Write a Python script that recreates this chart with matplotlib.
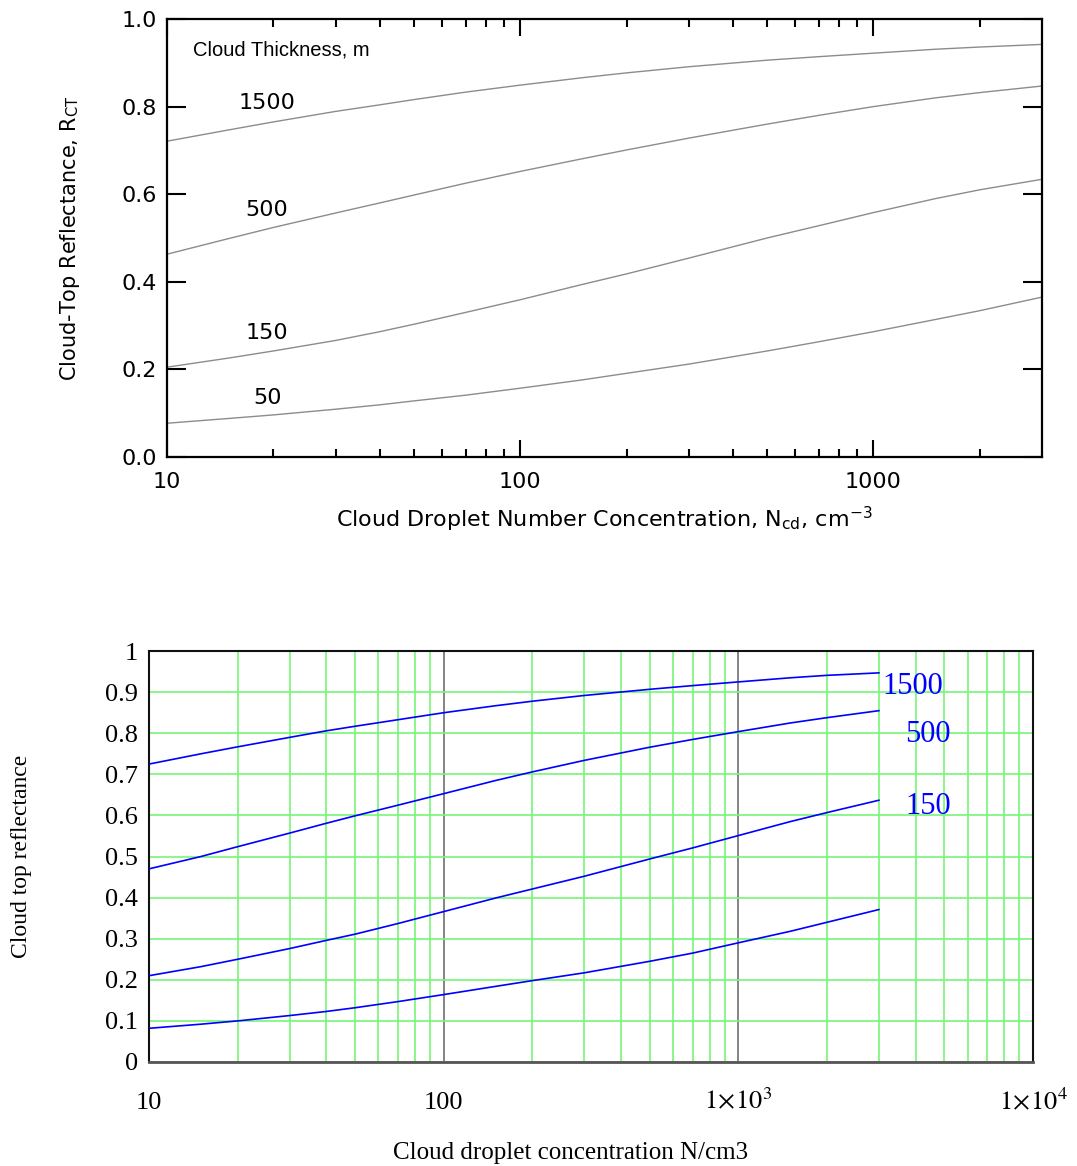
import matplotlib
matplotlib.use("Agg")
import matplotlib.pyplot as plt
from matplotlib.ticker import FixedLocator, NullFormatter

plt.rcParams['mathtext.fontset'] = 'stix'

# Top panel: published curves (cloud thickness in m)
n_top = [10, 15, 20, 30, 40, 50, 70, 100, 150, 200, 300, 500, 700, 1000, 1500, 2000, 3000]
r_top_1500 = [0.721, 0.747, 0.765, 0.789, 0.804, 0.816, 0.833, 0.849, 0.866, 0.877, 0.891,
              0.906, 0.914, 0.922, 0.931, 0.936, 0.942]
r_top_500 = [0.463, 0.499, 0.524, 0.557, 0.580, 0.598, 0.625, 0.652, 0.681, 0.701, 0.728,
             0.760, 0.780, 0.800, 0.820, 0.832, 0.847]
r_top_150 = [0.205, 0.226, 0.242, 0.266, 0.286, 0.303, 0.330, 0.359, 0.394, 0.418, 0.454,
             0.500, 0.528, 0.558, 0.590, 0.610, 0.634]
r_top_50 = [0.077, 0.088, 0.096, 0.109, 0.119, 0.128, 0.141, 0.157, 0.176, 0.191, 0.212,
            0.242, 0.263, 0.286, 0.314, 0.334, 0.365]
top_thick = ['1500', '500', '150', '50']

# Bottom panel: recomputed curves
n_bot = [10, 15, 20, 30, 40, 50, 70, 100, 150, 200, 300, 500, 700, 1000, 1500, 2000, 3000]
r_bot_1500 = [0.725, 0.750, 0.767, 0.790, 0.806, 0.817, 0.833, 0.850, 0.867, 0.878, 0.892,
              0.907, 0.916, 0.925, 0.935, 0.941, 0.947]
r_bot_500 = [0.470, 0.500, 0.524, 0.557, 0.581, 0.599, 0.625, 0.653, 0.685, 0.706, 0.734,
             0.766, 0.785, 0.804, 0.825, 0.838, 0.855]
r_bot_150 = [0.210, 0.232, 0.250, 0.276, 0.296, 0.311, 0.337, 0.366, 0.399, 0.421, 0.452,
             0.494, 0.521, 0.551, 0.585, 0.607, 0.637]
r_bot_50 = [0.082, 0.092, 0.100, 0.113, 0.123, 0.132, 0.147, 0.164, 0.184, 0.198, 0.217,
            0.245, 0.265, 0.290, 0.318, 0.340, 0.371]
bot_thick = ['1500', '500', '150']

fig = plt.figure(figsize=(10.77, 11.66), dpi=100)

# ---------------- top panel ----------------
sans = 'DejaVu Sans'
ax = fig.add_axes([0.1551, 0.6081, 0.8124, 0.3756])
for r in [r_top_1500, r_top_500, r_top_150, r_top_50]:
    ax.plot(n_top, r, color='#8c8c8c', lw=1.0)
ax.set_xscale('log')
ax.set_xlim(10, 3000)
ax.set_ylim(0, 1.0)
ax.xaxis.set_major_locator(FixedLocator([10, 100, 1000]))
ax.xaxis.set_minor_locator(FixedLocator([k * d for d in (10, 100, 1000) for k in range(2, 10) if k * d < 3000]))
ax.xaxis.set_minor_formatter(NullFormatter())
ax.set_xticklabels(['10', '100', '1000'], fontfamily=sans, fontsize=16)
ax.set_yticks([0, 0.2, 0.4, 0.6, 0.8, 1.0])
ax.set_yticklabels(['0.0', '0.2', '0.4', '0.6', '0.8', '1.0'], fontfamily=sans, fontsize=16)
ax.tick_params(which='major', axis='x', direction='in', length=12, width=1.5, top=True, pad=11)
ax.tick_params(which='major', axis='y', direction='in', length=14, width=1.5, right=True, pad=7)
ax.tick_params(which='minor', direction='in', length=6, width=1.5, top=True)
for s in ax.spines.values():
    s.set_linewidth(1.6)
ax.set_xlabel(r'Cloud Droplet Number Concentration, N$_{\mathregular{cd}}$, cm$^{\mathregular{-3}}$',
              fontfamily=sans, fontsize=16)
ax.xaxis.set_label_coords(0.5, -0.108)
ax.set_ylabel(r'Cloud-Top Reflectance, R$_{\mathregular{CT}}$', fontfamily=sans, fontsize=15)
ax.yaxis.set_label_coords(-0.097, 0.5)
ax.text(0.03, 0.929, 'Cloud Thickness, m', transform=ax.transAxes, fontfamily='Liberation Sans',
        fontsize=14.5, va='center', ha='left')
top_lab_y = [0.808, 0.564, 0.283, 0.135]
for lab, yv in zip(top_thick, top_lab_y):
    ax.text(19.2, yv, lab, fontfamily=sans, fontsize=16, ha='center', va='center')

# ---------------- bottom panel ----------------
serif = 'Liberation Serif'
green = '#77f577'
bx = fig.add_axes([0.1383, 0.0892, 0.8208, 0.3524])
for r in [r_bot_1500, r_bot_500, r_bot_150, r_bot_50]:
    bx.plot(n_bot, r, color='#0000ff', lw=1.2, zorder=3)
bx.set_xscale('log')
bx.set_xlim(10, 10000)
bx.set_ylim(0, 1)
bx.xaxis.set_major_locator(FixedLocator([10, 100, 1000, 10000]))
bx.xaxis.set_minor_locator(FixedLocator([k * d for d in (10, 100, 1000) for k in range(2, 10)]))
bx.xaxis.set_minor_formatter(NullFormatter())
bx.set_xticklabels(['10', '100', r'$1\!\times\!10^{3}$', r'$1\!\times\!10^{4}$'],
                   fontfamily=serif, fontsize=19)
for t in bx.get_xticklabels():
    t.set_va('baseline')
yt = [0, 0.1, 0.2, 0.3, 0.4, 0.5, 0.6, 0.7, 0.8, 0.9, 1.0]
bx.set_yticks(yt)
bx.set_yticklabels(['0', '0.1', '0.2', '0.3', '0.4', '0.5', '0.6', '0.7', '0.8', '0.9', '1'],
                   fontfamily=serif, fontsize=19)
bx.tick_params(axis='x', which='both', length=0, pad=34)
bx.tick_params(axis='y', which='both', length=0, pad=8)
bx.xaxis.grid(True, which='minor', color=green, lw=1.2)
bx.xaxis.grid(True, which='major', color='#707070', lw=1.2)
bx.yaxis.grid(True, which='major', color=green, lw=1.2)
bx.set_axisbelow(True)
for s in bx.spines.values():
    s.set_linewidth(1.5)
    s.set_color('#111111')
bx.spines['bottom'].set_color('#555555')
bx.spines['bottom'].set_linewidth(2)
bx.set_xlabel('Cloud droplet concentration N/cm3', fontfamily=serif, fontsize=18)
bx.xaxis.set_label_coords(0.477, -0.195)
bx.set_ylabel('Cloud top reflectance', fontfamily=serif, fontsize=17)
bx.yaxis.set_label_coords(-0.132, 0.5)
bot_lab_x = [3900, 4400, 4400]
bot_lab_y = [0.915, 0.798, 0.623]
for lab, xv, yv in zip(bot_thick, bot_lab_x, bot_lab_y):
    bx.text(xv, yv, lab, color='#0000ff', fontfamily=serif, fontsize=22, ha='center', va='center')

fig.savefig('out.png', dpi=100)
